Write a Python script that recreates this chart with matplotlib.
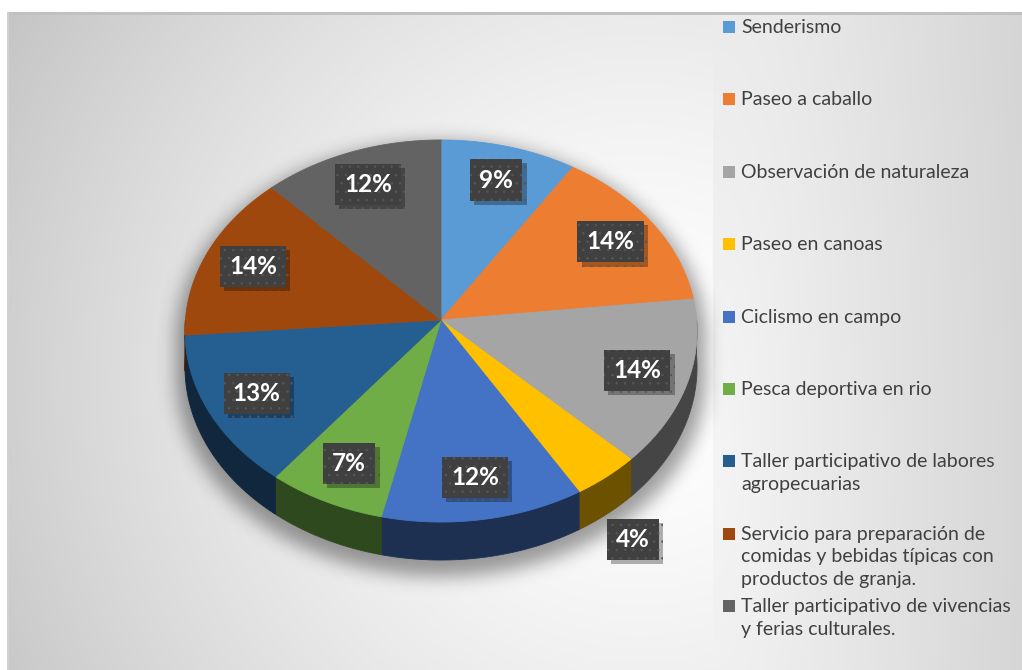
import textwrap
import numpy as np
import matplotlib
matplotlib.use("Agg")
import matplotlib.pyplot as plt
import matplotlib.patheffects as pe
from matplotlib.patches import Polygon, Rectangle
from matplotlib.path import Path

# Datos del grafico (porcentajes)
categorias = [
    "Senderismo",
    "Paseo a caballo",
    "Observación de naturaleza",
    "Paseo en canoas",
    "Ciclismo en campo",
    "Pesca deportiva en rio",
    "Taller participativo de labores agropecuarias",
    "Servicio para preparación de comidas y bebidas típicas con productos de granja.",
    "Taller participativo de vivencias y ferias culturales.",
]
valores = [9, 14, 14, 4, 12, 7, 13, 14, 12]
colores = ["#5B9BD5", "#ED7D31", "#A5A5A5", "#FFC000", "#4472C4",
           "#70AD47", "#255E91", "#9E480E", "#636363"]

W, H = 1022, 670

# Geometria del pastel 3D (proyeccion en perspectiva, en pixeles)
CX, CY = 441, 320
A, B = 255.6, 190.4
K = 0.0576
PROF = 35.8


def proyectar(r, t, z=0.0):
    u = r * np.sin(t)
    v = r * np.cos(t)
    den = 1 + K * v
    return CX + A * u / den, CY - B * v / den + z * PROF / den


def arco(t0, t1, z=0.0, n=80):
    ts = np.linspace(t0, t1, n)
    x, y = proyectar(1.0, ts, z)
    return np.column_stack([x, y])


def desenfocar(img, sigma):
    rad = int(3 * sigma)
    xs = np.arange(-rad, rad + 1)
    g = np.exp(-xs ** 2 / (2 * sigma ** 2))
    g /= g.sum()
    img = np.apply_along_axis(lambda f: np.convolve(f, g, mode="same"), 1, img)
    img = np.apply_along_axis(lambda f: np.convolve(f, g, mode="same"), 0, img)
    return img


def main():
    plt.rcParams["hatch.color"] = "#575757"
    plt.rcParams["hatch.linewidth"] = 0.5

    fig = plt.figure(figsize=(W / 100, H / 100), dpi=100)
    ax = fig.add_axes([0, 0, 1, 1])
    ax.set_xlim(0, W)
    ax.set_ylim(H, 0)
    ax.axis("off")

    # Fondo: degradado radial en el area del grafico y en la leyenda
    yy, xx = np.mgrid[0:H, 0:W] + 0.5
    d1 = np.hypot(xx - 640, yy - 380)
    fondo_graf = 1 - 0.22 * (d1 / 712) ** 1.5
    d2 = np.hypot((xx - 713) / 309, (yy - 450) / 1400)
    fondo_ley = 0.96 - 0.12 * d2
    fondo = np.where(xx < 713, fondo_graf, fondo_ley)
    fondo = np.where((xx < 8) | (yy < 12), 1.0, fondo)
    fondo = np.where((yy >= 12) & (yy < 15) & (xx >= 8), 0.76, fondo)
    fondo = np.where((xx >= 7) & (xx < 9) & (yy >= 12), 0.82, fondo)
    rgb = np.dstack([fondo] * 3).clip(0, 1)
    ax.imshow(rgb, extent=(0, W, H, 0), interpolation="bilinear", zorder=0)

    total = sum(valores)
    bordes = np.concatenate([[0], np.cumsum(valores)]) / total * 2 * np.pi

    # Sombra difusa bajo el pastel
    sup = arco(0, 2 * np.pi, 0, 240)
    inf = arco(0, 2 * np.pi, 1, 240)
    banda = np.vstack([arco(np.pi / 2, 3 * np.pi / 2, 0), arco(np.pi / 2, 3 * np.pi / 2, 1)[::-1]])
    pts = np.column_stack([xx.ravel(), yy.ravel()])
    mascara = np.zeros(xx.size, dtype=bool)
    for forma in (sup, inf, banda):
        f = forma.copy()
        f[:, 0] = CX + (f[:, 0] - CX) * 1.035
        f[:, 1] = 345 + (f[:, 1] - 345) * 1.035 + 9
        mascara |= Path(f).contains_points(pts)
    mascara = desenfocar(mascara.reshape(H, W).astype(float), 9)
    sombra = np.zeros((H, W, 4))
    sombra[..., 3] = mascara * 0.38
    ax.imshow(sombra, extent=(0, W, H, 0), interpolation="bilinear", zorder=1)

    # Caras laterales (solo la mitad frontal)
    for i, color in enumerate(colores):
        t0 = max(bordes[i], np.pi / 2)
        t1 = min(bordes[i + 1], 3 * np.pi / 2)
        if t1 <= t0:
            continue
        lado = np.vstack([arco(t0, t1, 0), arco(t0, t1, 1)[::-1]])
        oscuro = np.array(matplotlib.colors.to_rgb(color)) * 0.42
        ax.add_patch(Polygon(lado, closed=True, fc=oscuro, ec=oscuro, lw=0.6, zorder=2))

    # Caras superiores
    for i, color in enumerate(colores):
        cara = np.vstack([[proyectar(0, 0)], arco(bordes[i], bordes[i + 1], 0)])
        ax.add_patch(Polygon(cara, closed=True, fc=color, ec=color, lw=0.6, zorder=3))

    # Etiquetas de porcentaje
    for i, v in enumerate(valores):
        pct = round(v / total * 100)
        tm = (bordes[i] + bordes[i + 1]) / 2
        if pct >= 5:
            x, y = proyectar(0.8, tm, 0)
        else:
            x, y = proyectar(1.15, tm, 1)
        t = ax.text(x, y, f"{pct}%", color="white", zorder=5, ha="center", va="center",
                    fontsize=17.5, fontweight="bold", family="Lato",
                    bbox=dict(boxstyle="square,pad=0.38", fc="#404040", ec="#575757",
                              lw=0, hatch=".."))
        t.get_bbox_patch().set_path_effects(
            [pe.SimplePatchShadow(offset=(3, -3), shadow_rgbFace="black", alpha=0.3), pe.Normal()])

    # Leyenda a la derecha
    for i, (cat, color) in enumerate(zip(categorias, colores)):
        yc = 27 + i * 72.4
        ax.add_patch(Rectangle((723, yc - 6), 12, 12, fc=color, ec="none", zorder=5))
        texto = "\n".join(textwrap.wrap(cat, 33))
        ax.text(741, yc - 8, texto, ha="left", va="top", fontsize=14, family="Lato",
                color="#404040", linespacing=1.4, zorder=5)

    fig.savefig("out.png", dpi=100)


if __name__ == "__main__":
    main()
